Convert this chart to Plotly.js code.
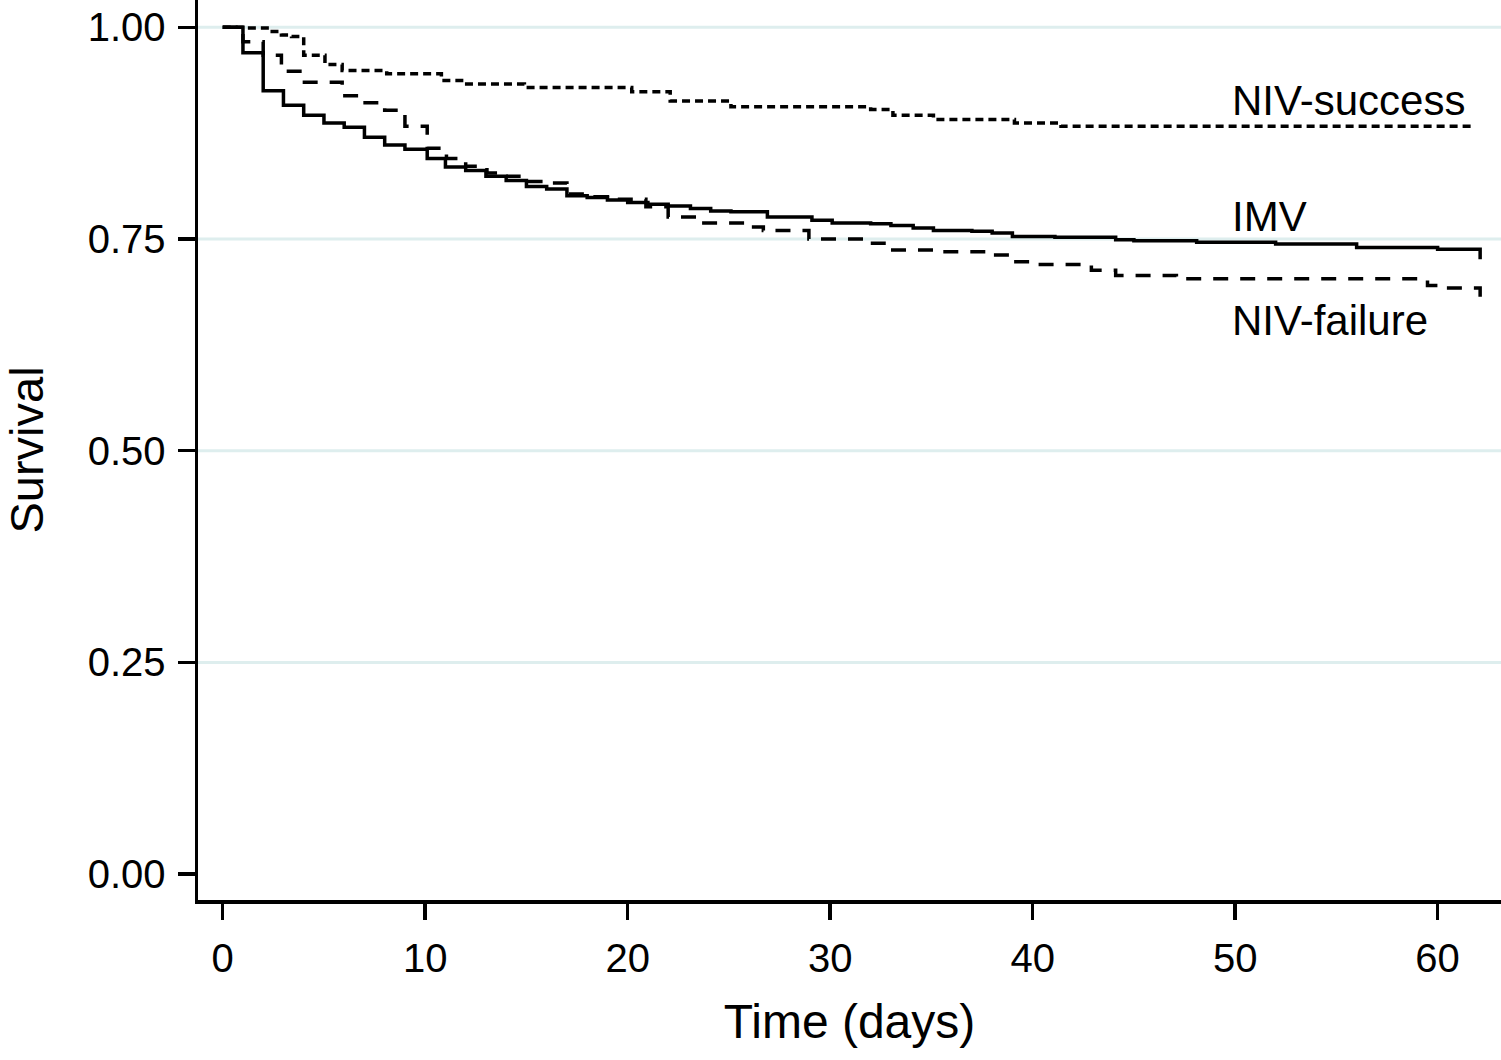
<!DOCTYPE html>
<html>
<head>
<meta charset="utf-8">
<script src="https://cdn.plot.ly/plotly-3.0.1.min.js"></script>
<style>
  html, body { margin: 0; padding: 0; background: #ffffff; }
  #chart { width: 1501px; height: 1060px; }
</style>
</head>
<body>
<div id="chart"></div>
<script>
// Kaplan-Meier survival estimates
const imvTime = [0, 1, 2, 3, 4, 5, 6, 7, 8, 9, 10.1, 11, 12, 13, 14, 15, 16, 17, 18, 19, 20, 21, 22, 23.1, 24.1, 25.1, 26.9, 29.1, 30.1, 32, 33, 34.1, 35.1, 37, 38, 39, 41.1, 44.1, 45, 48.1, 52, 56, 60, 62.1];
const imvSurv = [1, 0.970, 0.925, 0.908, 0.896, 0.887, 0.882, 0.870, 0.861, 0.856, 0.845, 0.835, 0.831, 0.824, 0.819, 0.812, 0.809, 0.801, 0.799, 0.796, 0.793, 0.791, 0.789, 0.786, 0.783, 0.782, 0.776, 0.772, 0.769, 0.768, 0.766, 0.763, 0.760, 0.759, 0.757, 0.753, 0.752, 0.749, 0.748, 0.746, 0.744, 0.740, 0.738, 0.726];

const successTime = [0, 1.1, 2.3, 2.9, 3.4, 4.0, 5.05, 5.9, 8.1, 10.8, 12.05, 14.9, 20.2, 22.1, 25.1, 32.0, 33.1, 35.1, 39.1, 41.4, 61.8];
const successSurv = [1, 0.999, 0.995, 0.991, 0.989, 0.967, 0.956, 0.949, 0.945, 0.937, 0.933, 0.929, 0.924, 0.913, 0.906, 0.903, 0.896, 0.891, 0.887, 0.883, 0.883];

const failureTime = [0, 1.0, 2.0, 2.9, 3.93, 5.9, 6.94, 8.0, 9.0, 10.1, 11.05, 12.0, 13.05, 14.0, 15.0, 16.0, 17.0, 18.0, 19.0, 20.9, 22.0, 23.6, 25.9, 26.7, 28.95, 31.97, 32.95, 35.1, 38.05, 38.96, 40.0, 42.9, 44.1, 47.1, 59.5, 60.4, 62.1];
const failureSurv = [1, 0.983, 0.967, 0.948, 0.935, 0.919, 0.911, 0.902, 0.883, 0.857, 0.845, 0.836, 0.828, 0.824, 0.818, 0.816, 0.803, 0.800, 0.797, 0.788, 0.776, 0.769, 0.764, 0.760, 0.750, 0.745, 0.737, 0.735, 0.731, 0.723, 0.720, 0.713, 0.707, 0.703, 0.695, 0.692, 0.676];

const xTickVals = [0, 10, 20, 30, 40, 50, 60];
const yTickVals = [0, 0.25, 0.5, 0.75, 1];
const yTickText = ["0.00", "0.25", "0.50", "0.75", "1.00"];
const gridVals = [0.25, 0.5, 0.75, 1];

const seriesNames = ["NIV-success", "IMV", "NIV-failure"];
const labelX = [49.75, 49.75, 49.75];
const labelY = [0.913, 0.776, 0.654];

const FONT = "Liberation Sans, Arial, Helvetica, sans-serif";

const traces = [
  { x: successTime, y: successSurv, name: seriesNames[0], mode: "lines",
    line: { shape: "hv", color: "#000000", width: 3.5, dash: "8px,5px" } },
  { x: imvTime, y: imvSurv, name: seriesNames[1], mode: "lines",
    line: { shape: "hv", color: "#000000", width: 3.5 } },
  { x: failureTime, y: failureSurv, name: seriesNames[2], mode: "lines",
    line: { shape: "hv", color: "#000000", width: 3.5, dash: "15px,12px" } }
];

const shapes = gridVals.map(v => ({
  type: "line", xref: "paper", yref: "y", x0: 0, x1: 1, y0: v, y1: v,
  line: { color: "#deeeee", width: 3 }, layer: "below"
}));

const annotations = seriesNames.map((n, i) => ({
  text: n, x: labelX[i], y: labelY[i], xref: "x", yref: "y",
  xanchor: "left", yanchor: "middle", showarrow: false,
  font: { family: FONT, size: 42, color: "#000000" }
}));

const layout = {
  width: 1501, height: 1060,
  margin: { l: 198, r: 0, t: 0, b: 160, pad: 0 },
  paper_bgcolor: "#ffffff", plot_bgcolor: "#ffffff",
  showlegend: false,
  font: { family: FONT, color: "#000000" },
  xaxis: {
    range: [-1.22, 63.13], tickvals: xTickVals, ticktext: xTickVals.map(String),
    showgrid: false, zeroline: false, showline: true, linecolor: "#000000", linewidth: 3.5,
    ticks: "outside", ticklen: 16, tickwidth: 3.5, tickcolor: "#000000",
    tickfont: { family: FONT, size: 40, color: "#000000" }, ticklabelstandoff: 4,
    title: { text: "Time (days)", font: { family: FONT, size: 48, color: "#000000" }, standoff: 27 }
  },
  yaxis: {
    range: [-0.0306, 1.0322], tickvals: yTickVals, ticktext: yTickText,
    showgrid: false, zeroline: false, showline: true, linecolor: "#000000", linewidth: 3.5,
    ticks: "outside", ticklen: 17, tickwidth: 3.5, tickcolor: "#000000",
    tickfont: { family: FONT, size: 40, color: "#000000" }, ticklabelstandoff: 4,
    title: { text: "Survival", font: { family: FONT, size: 47, color: "#000000" }, standoff: 38 }
  },
  shapes: shapes,
  annotations: annotations
};

Plotly.newPlot("chart", traces, layout, { displayModeBar: false, staticPlot: true });
</script>
</body>
</html>
